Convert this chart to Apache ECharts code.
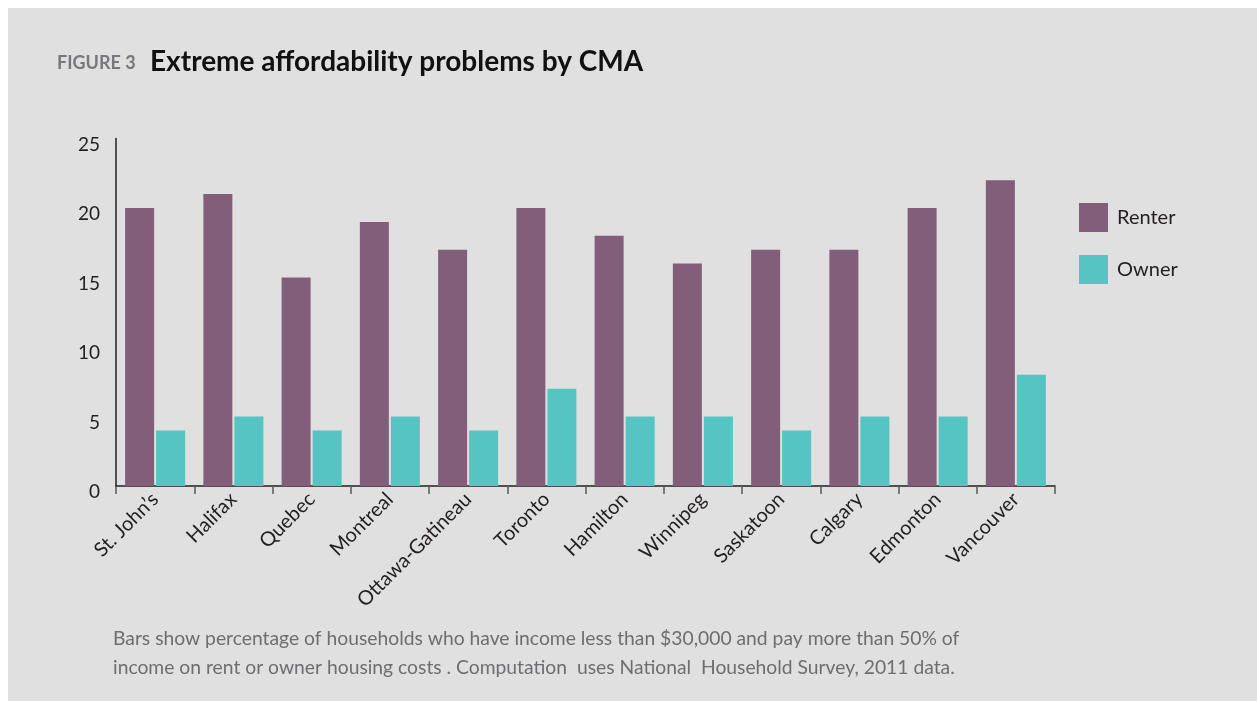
<!DOCTYPE html>
<html lang="en">
<head>
    <meta charset="UTF-8">
    <title>Extreme affordability problems by CMA</title>
    <script src="https://cdn.jsdelivr.net/npm/echarts@6/dist/echarts.min.js"></script>
    <style>
        html, body { margin: 0; padding: 0; background: #fff; }
        #main { width: 1257px; height: 701px; }
    </style>
</head>
<body>
    <div id="main"></div>
    <script>
        // data
        var cities = ['St. John\u2019s', 'Halifax', 'Quebec', 'Montreal', 'Ottawa-Gatineau', 'Toronto',
            'Hamilton', 'Winnipeg', 'Saskatoon', 'Calgary', 'Edmonton', 'Vancouver'];
        var renter = [20, 21, 15, 19, 17, 20, 18, 16, 17, 17, 20, 22];
        var owner = [4, 5, 4, 5, 4, 7, 5, 5, 4, 5, 5, 8];
        var yTicks = [0, 5, 10, 15, 20, 25];

        var font = 'Lato, "Open Sans", sans-serif';
        var ink = '#231f20';

        var myChart = echarts.init(document.getElementById('main'));

        var option = {
            backgroundColor: '#ffffff',
            textStyle: { fontFamily: font },
            // grey panel, white strip on the top and left
            graphic: [{
                type: 'rect',
                z: -10,
                shape: { x: 8, y: 8, width: 1257, height: 701 },
                style: { fill: '#dfe0df' }
            }],
            title: [{
                text: 'FIGURE 3',
                left: 57,
                top: 54,
                padding: 0,
                textStyle: { fontFamily: font, fontSize: 18, fontWeight: 'bold', color: '#77787b' }
            }, {
                text: 'Extreme affordability problems by CMA',
                left: 150,
                top: 48,
                padding: 0,
                textStyle: { fontFamily: font, fontSize: 28, fontWeight: 'bold', color: '#111' }
            }, {
                text: 'Bars show percentage of households who have income less than $30,000 and pay more than 50% of\nincome on rent or owner housing costs . Computation  uses National  Household Survey, 2011 data.',
                left: 113,
                top: 624,
                padding: 0,
                textStyle: { fontFamily: font, fontSize: 19.3, fontWeight: 'normal', color: '#6d6e71', lineHeight: 29 }
            }],
            legend: {
                orient: 'vertical',
                left: 1079,
                top: 203,
                padding: 0,
                itemWidth: 29,
                itemHeight: 29,
                itemGap: 23,
                icon: 'rect',
                textStyle: { fontFamily: font, fontSize: 20, color: ink, padding: [0, 0, 0, 4] },
                data: ['Renter', 'Owner']
            },
            grid: {
                left: 116,
                right: 202,
                top: 138.5,
                bottom: 215,
                containLabel: false
            },
            xAxis: {
                type: 'category',
                data: cities,
                axisLine: { lineStyle: { color: ink, width: 1.5 } },
                axisTick: { show: true, length: 8, lineStyle: { color: '#58595b', width: 1.5 } },
                axisLabel: {
                    interval: 0,
                    rotate: 45,
                    margin: 10,
                    fontFamily: font,
                    fontSize: 20,
                    color: ink
                }
            },
            yAxis: {
                type: 'value',
                min: yTicks[0],
                max: yTicks[yTicks.length - 1],
                interval: 5,
                axisLine: { show: true, lineStyle: { color: ink, width: 1.5 } },
                axisTick: { show: false },
                splitLine: { show: false },
                axisLabel: {
                    margin: 16,
                    fontFamily: font,
                    fontSize: 19,
                    color: ink,
                    verticalAlign: 'top',
                    lineHeight: 12
                }
            },
            series: [{
                name: 'Renter',
                type: 'bar',
                data: renter,
                barWidth: 29,
                barGap: '7%',
                itemStyle: { color: '#835e7a' }
            }, {
                name: 'Owner',
                type: 'bar',
                data: owner,
                barWidth: 29,
                barGap: '7%',
                itemStyle: { color: '#55c4c2' }
            }]
        };

        myChart.setOption(option);
    </script>
</body>
</html>
